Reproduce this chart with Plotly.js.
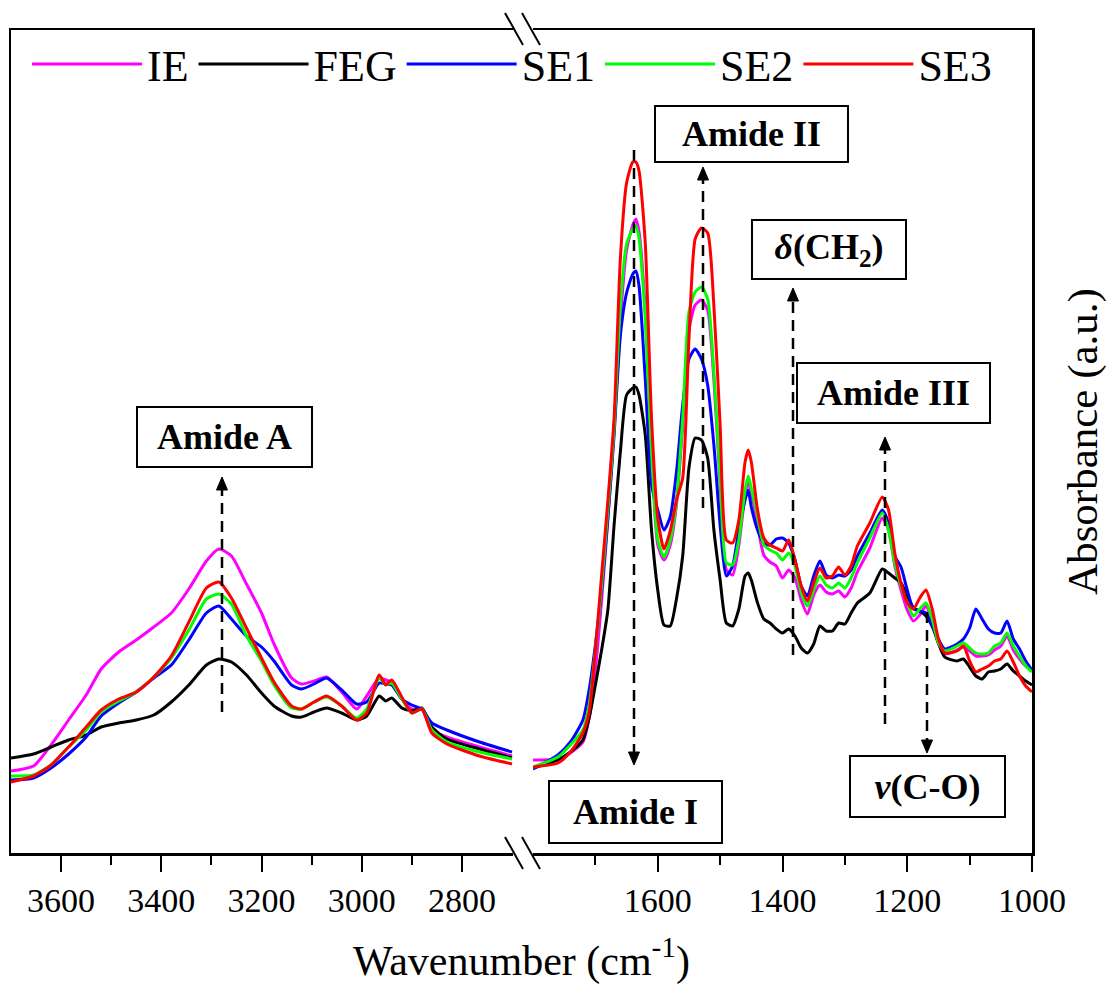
<!DOCTYPE html>
<html>
<head>
<meta charset="utf-8">
<script src="https://cdn.plot.ly/plotly-3.0.1.min.js"></script>
<style>html,body{margin:0;padding:0;background:#fff;}#chart{width:1107px;height:985px;}</style>
</head>
<body>
<div id="chart"></div>
<script>
// ---------- DATA ----------
const seriesNames = ['IE', 'FEG', 'SE1', 'SE2', 'SE3'];
const seriesColors = ['#FF00FF', '#000000', '#0000FF', '#00FF00', '#FF0000'];

// High-wavenumber segment (cm-1)
const wnLeft = [3700, 3655, 3620, 3585, 3550, 3520, 3485, 3450, 3415, 3380, 3345, 3310, 3285, 3260, 3230, 3200, 3175, 3140, 3120, 3095, 3070, 3040, 3010, 2990, 2965, 2952, 2940, 2920, 2900, 2880, 2860, 2830, 2765, 2700];
const IE_left  = [.082,.087,.108,.133,.158,.184,.201,.213,.226,.240,.264,.292,.304,.297,.269,.240,.209,.175,.169,.172,.176,.161,.144,.157,.175,.173,.171,.154,.144,.144,.123,.116,.106,.097];
const FEG_left = [.095,.099,.106,.113,.118,.126,.130,.133,.138,.151,.168,.188,.194,.191,.178,.160,.147,.137,.136,.141,.145,.140,.133,.137,.157,.152,.155,.145,.142,.145,.126,.114,.104,.095];
const SE1_left = [.073,.075,.085,.099,.116,.137,.150,.161,.175,.188,.213,.240,.247,.234,.217,.206,.192,.168,.164,.169,.175,.163,.149,.151,.170,.169,.168,.154,.148,.144,.130,.123,.111,.101];
const SE2_left = [.077,.078,.088,.106,.123,.141,.152,.161,.176,.195,.223,.254,.259,.249,.217,.192,.168,.145,.144,.151,.156,.147,.135,.144,.175,.168,.170,.154,.140,.144,.123,.111,.101,.094];
const SE3_left = [.071,.077,.088,.106,.126,.143,.154,.161,.176,.197,.231,.265,.271,.255,.225,.195,.171,.147,.144,.151,.157,.147,.133,.140,.178,.168,.173,.156,.140,.144,.120,.109,.097,.089];

// Fingerprint segment (cm-1)
const wnRight = [1800,1760,1740,1720,1710,1700,1690,1680,1670,1660,1650,1640,1635,1630,1620,1610,1600,1590,1580,1570,1560,1550,1540,1530,1520,1510,1500,1490,1480,1470,1460,1455,1450,1440,1430,1420,1410,1400,1390,1380,1370,1360,1350,1340,1330,1320,1310,1300,1290,1280,1260,1240,1230,1220,1210,1200,1190,1180,1170,1160,1150,1140,1120,1110,1100,1090,1080,1070,1060,1050,1040,1030,1020,1010,1000];
const IE_right  = [.093,.094,.100,.111,.135,.183,.253,.333,.423,.533,.603,.628,.634,.621,.543,.403,.308,.293,.308,.348,.428,.523,.548,.553,.543,.473,.368,.283,.278,.308,.358,.371,.361,.328,.298,.291,.287,.275,.283,.275,.253,.239,.258,.268,.261,.259,.262,.256,.265,.281,.305,.335,.323,.287,.263,.243,.232,.238,.247,.231,.209,.199,.203,.206,.202,.197,.197,.198,.203,.207,.217,.203,.194,.187,.183];
const FEG_right = [.085,.093,.101,.113,.135,.168,.203,.243,.328,.401,.458,.465,.466,.458,.418,.323,.263,.228,.227,.254,.297,.385,.415,.413,.395,.323,.273,.230,.227,.244,.277,.280,.273,.250,.234,.230,.224,.220,.224,.217,.205,.200,.209,.227,.222,.222,.230,.229,.240,.250,.260,.284,.280,.275,.270,.257,.245,.242,.237,.227,.210,.196,.192,.194,.186,.177,.174,.181,.182,.184,.189,.182,.177,.172,.168];
const SE1_right = [.084,.098,.111,.133,.163,.208,.263,.335,.418,.517,.560,.579,.582,.567,.474,.368,.343,.323,.336,.381,.448,.494,.504,.494,.468,.408,.328,.277,.287,.323,.353,.363,.346,.323,.310,.308,.314,.315,.310,.293,.267,.257,.277,.292,.278,.275,.278,.277,.283,.297,.320,.343,.330,.297,.286,.263,.244,.242,.240,.227,.214,.204,.209,.214,.225,.244,.234,.224,.220,.220,.232,.214,.204,.192,.183];
const SE2_right = [.086,.096,.108,.123,.148,.203,.268,.343,.425,.547,.609,.624,.627,.614,.534,.401,.313,.296,.313,.352,.435,.541,.561,.566,.554,.481,.375,.290,.288,.313,.363,.377,.365,.337,.308,.303,.300,.293,.300,.287,.260,.247,.263,.277,.268,.265,.270,.265,.275,.290,.315,.340,.323,.290,.267,.250,.237,.244,.250,.234,.210,.202,.207,.210,.205,.200,.199,.200,.207,.210,.220,.207,.197,.187,.181];
const SE3_right = [.086,.090,.101,.120,.141,.203,.278,.352,.435,.594,.670,.691,.691,.682,.610,.435,.335,.304,.322,.353,.375,.514,.614,.625,.620,.547,.428,.313,.310,.333,.391,.403,.391,.343,.315,.308,.305,.302,.313,.293,.267,.252,.270,.285,.275,.277,.286,.278,.287,.307,.330,.356,.343,.300,.270,.250,.244,.255,.263,.244,.214,.200,.202,.207,.192,.181,.184,.187,.192,.194,.202,.191,.177,.167,.161];

const leftTicks = [3600, 3400, 3200, 3000, 2800];
const leftMinor = [3500, 3300, 3100, 2900];
const rightTicks = [1600, 1400, 1200, 1000];
const rightMinor = [1700, 1500, 1300, 1100];

const leftData = [IE_left, FEG_left, SE1_left, SE2_left, SE3_left];
const rightData = [IE_right, FEG_right, SE1_right, SE2_right, SE3_right];

// ---------- LAYOUT HELPERS ----------
const W = 1107, H = 985;
const M = {l: 11, r: 75, t: 30, b: 132};
const PW = W - M.l - M.r, PH = H - M.t - M.b;
const fx = p => (p - M.l) / PW;
const fy = p => (H - M.b - p) / PH;

const FONT = '"Liberation Serif", serif';

const traces = [];
seriesNames.forEach((name, i) => {
  const line = {color: seriesColors[i], width: 3, shape: 'spline', smoothing: 0.6};
  traces.push({x: wnLeft, y: leftData[i], xaxis: 'x', yaxis: 'y', type: 'scatter', mode: 'lines',
    name: name, legendgroup: name, showlegend: true, line: line, hoverinfo: 'skip'});
  traces.push({x: wnRight, y: rightData[i], xaxis: 'x2', yaxis: 'y2', type: 'scatter', mode: 'lines',
    name: name, legendgroup: name, showlegend: false, line: line, hoverinfo: 'skip'});
});
// empty carrier trace for the full-width axis that holds the shared x title
traces.push({x: [], y: [], xaxis: 'x3', yaxis: 'y', type: 'scatter', mode: 'lines', showlegend: false, hoverinfo: 'skip'});

const axisCommon = {
  showline: true, linewidth: 2.5, linecolor: '#000', mirror: true,
  ticks: 'outside', ticklen: 16, tickwidth: 2, tickcolor: '#000',
  tickmode: 'array', showgrid: false, zeroline: false,
  tickfont: {family: FONT, size: 34, color: '#000'}
};
const minorCommon = {tickmode: 'array', ticks: 'outside', ticklen: 9, tickwidth: 2, tickcolor: '#000', showgrid: false};

const shapes = [];
// axis-break marks
[[505, 523], [522, 540]].forEach(([a, b]) => {
  shapes.push({type: 'line', xref: 'paper', yref: 'paper', x0: fx(a), x1: fx(b), y0: fy(837), y1: fy(869), line: {color: '#000', width: 2}});
  shapes.push({type: 'line', xref: 'paper', yref: 'paper', x0: fx(a), x1: fx(b), y0: fy(13), y1: fy(45), line: {color: '#000', width: 2}});
});

// dashed arrows [x, tail y, tip y]
const arrows = [[222, 712, 477], [634, 150, 765], [703, 508, 167], [793, 655, 288], [885, 724, 437], [927, 612, 753]];
arrows.forEach(([x, tail, tip]) => {
  const dir = tip < tail ? 1 : -1; // 1 = pointing up
  const base = tip + dir * 13;
  shapes.push({type: 'line', xref: 'paper', yref: 'paper', x0: fx(x), x1: fx(x), y0: fy(tail), y1: fy(base),
    line: {color: '#000', width: 2.5, dash: '11px,7px'}});
  shapes.push({type: 'path', xref: 'paper', yref: 'paper',
    path: `M ${fx(x)} ${fy(tip)} L ${fx(x - 5.5)} ${fy(base)} L ${fx(x + 5.5)} ${fy(base)} Z`,
    fillcolor: '#000', line: {color: '#000', width: 1}});
});

// labelled boxes [text, cx, cy, w, h]
const boxes = [
  ['<b>Amide A</b>', 224.5, 437, 177, 62],
  ['<b>Amide II</b>', 751.5, 134, 195, 58],
  ['<b><i>δ</i>(CH<sub>2</sub>)</b>', 829, 249, 156, 61],
  ['<b>Amide III</b>', 893.5, 392.5, 195, 62],
  ['<b>Amide I</b>', 635.5, 812, 175, 64],
  ['<b><i>ν</i>(C-O)</b>', 927.5, 786.5, 157, 63]
];
const annotations = boxes.map(([t, cx, cy, w, h]) => ({
  text: t, xref: 'paper', yref: 'paper', x: fx(cx), y: fy(cy), xanchor: 'center', yanchor: 'middle',
  showarrow: false, width: w - 4, height: h - 4, borderpad: 0, borderwidth: 2, bordercolor: '#000',
  bgcolor: 'rgba(255,255,255,0)', font: {family: FONT, size: 36, color: '#000'}
}));

const layout = {
  width: W, height: H, margin: M,
  paper_bgcolor: '#fff', plot_bgcolor: 'rgba(0,0,0,0)',
  font: {family: FONT, color: '#000'},
  showlegend: true,
  legend: {orientation: 'h', x: fx(27), y: fy(29), xanchor: 'left', yanchor: 'top',
    font: {family: FONT, size: 44, color: '#000'}, itemwidth: 110, bgcolor: 'rgba(0,0,0,0)', traceorder: 'normal'},
  xaxis: Object.assign({}, axisCommon, {domain: [0, fx(513)], range: [3700, 2698], anchor: 'y',
    tickvals: leftTicks, minor: Object.assign({}, minorCommon, {tickvals: leftMinor})}),
  xaxis2: Object.assign({}, axisCommon, {domain: [fx(533), 1], range: [1800, 1000], anchor: 'y2',
    tickvals: rightTicks, minor: Object.assign({}, minorCommon, {tickvals: rightMinor})}),
  xaxis3: {domain: [0, 1], range: [0, 1], anchor: 'y', showline: false, ticks: '', showticklabels: false,
    showgrid: false, zeroline: false,
    title: {text: 'Wavenumber (cm<sup>-1</sup>)', font: {family: FONT, size: 42, color: '#000'}, standoff: 95}},
  yaxis: {domain: [0, 1], range: [0, 0.823], anchor: 'x', showline: true, linewidth: 2.5, linecolor: '#000',
    ticks: '', showticklabels: false, showgrid: false, zeroline: false},
  yaxis2: {domain: [0, 1], range: [0, 0.823], anchor: 'x2', side: 'right', showline: true, linewidth: 2.5, linecolor: '#000',
    ticks: '', showticklabels: false, showgrid: false, zeroline: false,
    title: {text: 'Absorbance (a.u.)', font: {family: FONT, size: 43, color: '#000'}, standoff: 34}},
  shapes: shapes,
  annotations: annotations
};

Plotly.newPlot('chart', traces, layout, {staticPlot: true, displayModeBar: false});
</script>
</body>
</html>
